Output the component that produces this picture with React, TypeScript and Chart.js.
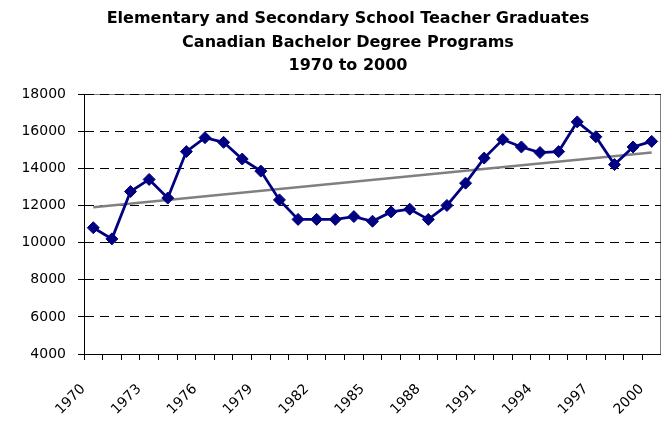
import React, { useEffect, useRef } from "react";
import { Chart, registerables } from "chart.js";

Chart.register(...registerables);

const years = [
  "1970", "1971", "1972", "1973", "1974", "1975", "1976", "1977", "1978", "1979",
  "1980", "1981", "1982", "1983", "1984", "1985", "1986", "1987", "1988", "1989",
  "1990", "1991", "1992", "1993", "1994", "1995", "1996", "1997", "1998", "1999",
  "2000",
];

const graduates = [
  10800, 10200, 12750, 13400, 12400, 14900, 15650, 15400, 14500, 13850,
  12300, 11250, 11250, 11250, 11400, 11150, 11650, 11800, 11250, 12000,
  13200, 14550, 15550, 15150, 14850, 14900, 16500, 15700, 14200, 15150,
  15450,
];

// linear trend line end points (1970, 2000)
const trendEnds = [11900, 14850];

const yMin = 4000;
const yMax = 18000;
const yStep = 2000;

const titleLines = [
  "Elementary and Secondary School Teacher Graduates",
  "Canadian Bachelor Degree Programs",
  "1970 to 2000",
];

const FONT = "'DejaVu Sans', sans-serif";

const plotBorder = {
  id: "plotBorder",
  afterLayout(chart: any) {
    const tb = chart.titleBlock;
    if (tb) {
      tb.left = 35;
      tb.right = chart.width;
    }
  },
  beforeDraw(chart: any) {
    const { ctx, chartArea } = chart;
    const l = Math.round(chartArea.left) + 0.5;
    const t = Math.round(chartArea.top) + 0.5;
    const r = Math.round(chartArea.right) - 0.5;
    const b = Math.round(chartArea.bottom) + 0.5;
    ctx.save();
    ctx.strokeStyle = "#808080";
    ctx.lineWidth = 1;
    ctx.beginPath();
    ctx.moveTo(l, t);
    ctx.lineTo(r, t);
    ctx.lineTo(r, b);
    ctx.stroke();
    ctx.restore();
  },
};

export default function App() {
  const ref = useRef<HTMLCanvasElement | null>(null);

  useEffect(() => {
    if (!ref.current) return;
    const trendData = years.map((_, i) =>
      i === 0 ? trendEnds[0] : i === years.length - 1 ? trendEnds[1] : null
    );
    const chart = new Chart(ref.current, {
      type: "line",
      data: {
        labels: years,
        datasets: [
          {
            label: "Graduates",
            data: graduates,
            borderColor: "#000080",
            backgroundColor: "#000080",
            borderWidth: 2.75,
            pointStyle: "rectRot",
            pointRadius: 6,
            pointBorderWidth: 1,
            pointBackgroundColor: "#000080",
            pointBorderColor: "#000080",
            tension: 0,
          },
          {
            label: "Trend",
            data: trendData,
            borderColor: "#808080",
            borderWidth: 2.5,
            pointRadius: 0,
            spanGaps: true,
            tension: 0,
          },
        ],
      },
      options: {
        responsive: false,
        animation: false,
        devicePixelRatio: 1,
        layout: { autoPadding: false, padding: { left: 0, right: 0, top: 0, bottom: 0 } },
        plugins: {
          legend: { display: false },
          tooltip: { enabled: false },
          title: {
            display: true,
            text: titleLines,
            color: "#000",
            font: { family: FONT, size: 16, weight: "bold", lineHeight: 1.48 },
            padding: { top: 7, bottom: 16 },
          },
        },
        scales: {
          x: {
            offset: true,
            grid: {
              display: true,
              drawOnChartArea: false,
              drawTicks: true,
              tickLength: 6,
              color: "#000",
              tickColor: "#000",
              offset: true,
            },
            border: { display: true, color: "#000", width: 1 },
            ticks: {
              autoSkip: false,
              minRotation: 45,
              maxRotation: 45,
              padding: 21,
              labelOffset: -10,
              color: "#000",
              font: { family: FONT, size: 14 },
              callback: (_v: any, i: number) => (i % 3 === 0 ? years[i] : ""),
            },
            afterFit: (s: any) => {
              s.height = 69;
              s.paddingLeft = 0;
              s.paddingRight = 0;
            },
          },
          y: {
            min: yMin,
            max: yMax,
            grid: {
              color: "#000",
              tickColor: "#000",
              tickLength: 6,
              drawTicks: true,
              tickBorderDash: [],
            },
            border: { display: true, color: "#000", width: 1, dash: [9, 6] },
            ticks: {
              stepSize: yStep,
              padding: 12,
              color: "#000",
              font: { family: FONT, size: 14 },
              callback: (v: any) => String(v),
            },
            afterFit: (s: any) => {
              s.width = 84;
            },
          },
        },
      },
      plugins: [plotBorder],
    });
    return () => chart.destroy();
  }, []);

  return (
    <div style={{ position: "fixed", left: 0, top: 0, width: 661, height: 423, background: "#fff" }}>
      <canvas ref={ref} width={661} height={423} style={{ display: "block" }} />
    </div>
  );
}
